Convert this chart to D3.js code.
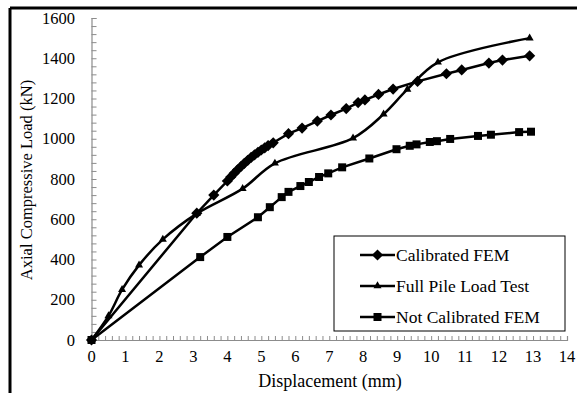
<!DOCTYPE html>
<html>
<head>
<meta charset="utf-8">
<script src="https://d3js.org/d3.v7.min.js"></script>
<style>
  body { margin: 0; background: #fff; }
  svg text { font-family: "Liberation Serif", "Times New Roman", serif; fill: #000; }
</style>
</head>
<body>
<div id="chart"></div>
<script>
// Calibrated FEM (diamonds)
var calDisp = [0, 3.1, 3.6, 4.0, 4.1, 4.2, 4.3, 4.4, 4.5, 4.6, 4.7, 4.8, 4.9, 5.0, 5.1, 5.2, 5.35, 5.8, 6.2, 6.65, 7.05, 7.5, 7.85, 8.05, 8.45, 8.88, 9.6, 10.45, 10.9, 11.7, 12.1, 12.9];
var calLoad = [0, 630, 720, 790, 810, 828, 846, 862, 878, 893, 907, 920, 932, 944, 955, 966, 980, 1025, 1053, 1088, 1118, 1150, 1180, 1193, 1220, 1247, 1285, 1323, 1342, 1376, 1391, 1412];

// Full Pile Load Test (triangles)
var testDisp = [0, 0.5, 0.9, 1.4, 2.1, 3.1, 4.45, 5.4, 7.7, 8.6, 9.3, 10.2, 12.9];
var testLoad = [0, 120, 250, 372, 500, 628, 752, 878, 1003, 1122, 1245, 1380, 1500];

// Not Calibrated FEM (squares)
var notDisp = [0, 3.2, 4.0, 4.9, 5.25, 5.6, 5.8, 6.15, 6.4, 6.7, 6.97, 7.38, 8.18, 8.98, 9.37, 9.57, 9.96, 10.17, 10.56, 11.38, 11.76, 12.59, 12.94];
var notLoad = [0, 412, 512, 610, 660, 710, 736, 765, 785, 810, 828, 858, 902, 948, 965, 972, 984, 988, 999, 1014, 1020, 1033, 1035];

var seriesNames = ["Calibrated FEM", "Full Pile Load Test", "Not Calibrated FEM"];
var xTicks = d3.range(0, 15, 1);
var yTicks = d3.range(0, 1601, 200);

var width = 577, height = 393;
var svg = d3.select("#chart").append("svg")
  .attr("width", width).attr("height", height);

// outer frame (only top/left visible)
svg.append("line").attr("x1", 10).attr("y1", 8).attr("x2", width).attr("y2", 8)
  .attr("stroke", "#000").attr("stroke-width", 3);
svg.append("line").attr("x1", 10).attr("y1", 8).attr("x2", 10).attr("y2", height)
  .attr("stroke", "#000").attr("stroke-width", 3);

var x = d3.scaleLinear().domain([0, 14]).range([91.5, 567]);
var y = d3.scaleLinear().domain([0, 1600]).range([340, 18]);

// axes
var axisColor = "#8c8c8c";
var xAxis = svg.append("g").attr("transform", "translate(0," + y(0) + ")")
  .call(d3.axisTop(x).tickValues(d3.range(0, 14.01, 0.2)).tickSize(4).tickFormat(""));
var yAxis = svg.append("g").attr("transform", "translate(" + x(0) + ",0)")
  .call(d3.axisRight(y).tickValues(d3.range(0, 1601, 40)).tickSize(5).tickFormat(""));
[xAxis, yAxis].forEach(function (g) {
  g.select(".domain").attr("stroke", axisColor).attr("stroke-width", 1.2);
  g.selectAll(".tick line").attr("stroke", axisColor);
});

svg.append("g").selectAll("text").data(xTicks).enter().append("text")
  .attr("x", function (d) { return x(d); })
  .attr("y", 362)
  .attr("text-anchor", "middle")
  .style("font-size", "16.5px")
  .text(function (d) { return d; });

svg.append("g").selectAll("text").data(yTicks).enter().append("text")
  .attr("x", 75)
  .attr("y", function (d) { return y(d) + 5.5; })
  .attr("text-anchor", "end")
  .style("font-size", "16.5px")
  .text(function (d) { return d; });

svg.append("text").attr("x", 330).attr("y", 387)
  .attr("text-anchor", "middle").style("font-size", "18px")
  .text("Displacement (mm)");

svg.append("text")
  .attr("transform", "translate(32,180) rotate(-90)")
  .attr("text-anchor", "middle").style("font-size", "16.5px")
  .text("Axial Compressive Load (kN)");

function zip(xs, ys) {
  return xs.map(function (d, i) { return [d, ys[i]]; });
}

var symbols = [
  d3.symbol().type(d3.symbolDiamond2).size(80),
  d3.symbol().type(d3.symbolTriangle).size(28),
  d3.symbol().type(d3.symbolSquare).size(64)
];
var curves = [d3.curveLinear, d3.curveCatmullRom.alpha(0.5), d3.curveLinear];
var data = [zip(calDisp, calLoad), zip(testDisp, testLoad), zip(notDisp, notLoad)];

data.forEach(function (pts, i) {
  var line = d3.line()
    .x(function (d) { return x(d[0]); })
    .y(function (d) { return y(d[1]); })
    .curve(curves[i]);
  svg.append("path").datum(pts)
    .attr("d", line)
    .attr("fill", "none")
    .attr("stroke", "#000")
    .attr("stroke-width", 2.5);
  svg.append("g").selectAll("path").data(pts).enter().append("path")
    .attr("d", symbols[i])
    .attr("transform", function (d) {
      return "translate(" + x(d[0]) + "," + y(d[1]) + ")";
    })
    .attr("fill", "#000");
});

// legend
var leg = svg.append("g");
leg.append("rect").attr("x", 334).attr("y", 236).attr("width", 231).attr("height", 95)
  .attr("fill", "#fff").attr("stroke", "#000").attr("stroke-width", 1);
seriesNames.forEach(function (name, i) {
  var ly = 255 + i * 31;
  leg.append("line").attr("x1", 360).attr("x2", 395).attr("y1", ly).attr("y2", ly)
    .attr("stroke", "#000").attr("stroke-width", 2.5);
  leg.append("path").attr("d", symbols[i])
    .attr("transform", "translate(377.5," + ly + ")").attr("fill", "#000");
  leg.append("text").attr("x", 396).attr("y", ly + 6)
    .style("font-size", "17.5px").text(name);
});
</script>
</body>
</html>
